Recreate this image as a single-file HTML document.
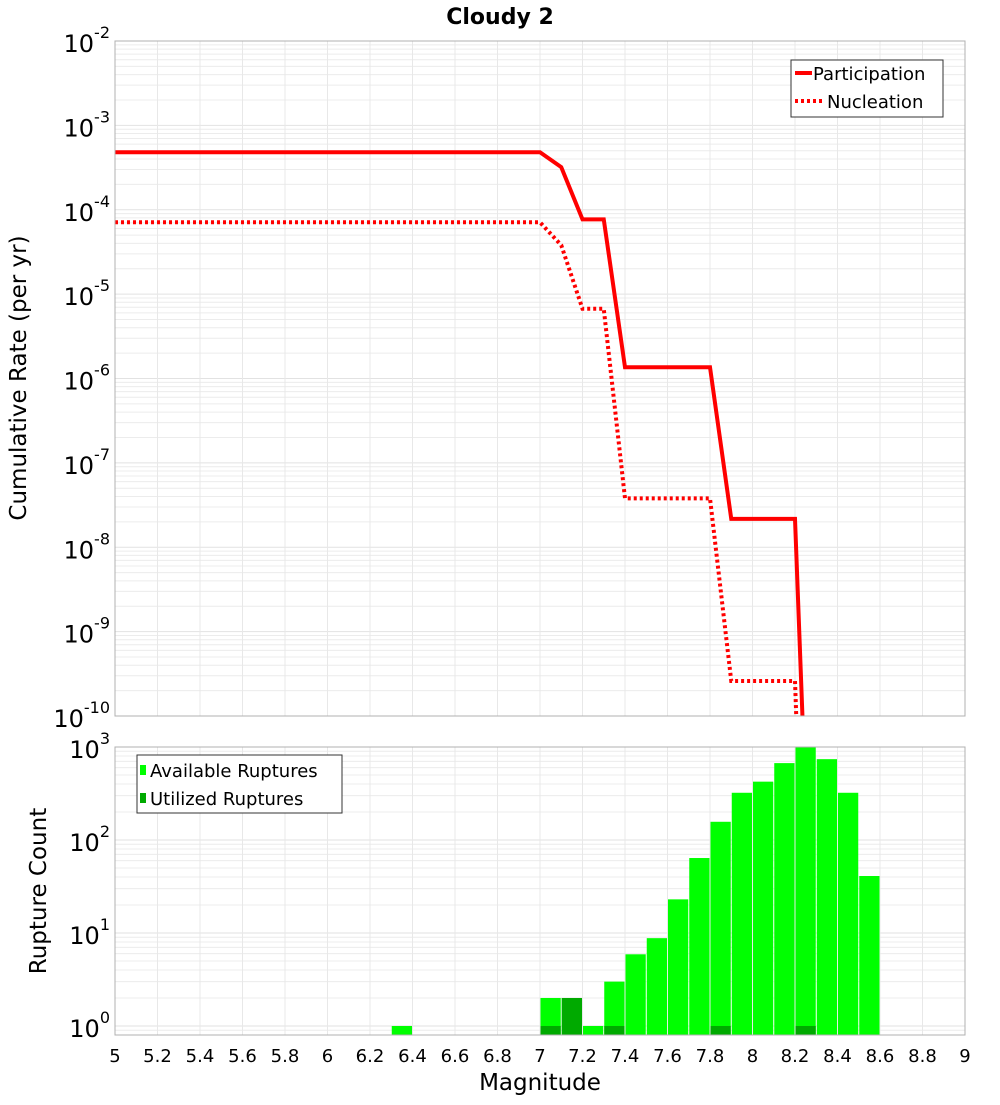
<!DOCTYPE html>
<html><head><meta charset="utf-8"><style>
body{margin:0;background:#fff;}
svg text{font-family:"DejaVu Sans","Liberation Sans",sans-serif;fill:#000;}
</style></head><body>
<svg id="chart" width="1000" height="1100" xmlns="http://www.w3.org/2000/svg">
<text x="500" y="24" text-anchor="middle" font-size="22" font-weight="bold">Cloudy 2</text>
<g id="topPlot"></g>
<g id="botPlot"></g>
<text transform="translate(26,378) rotate(-90)" text-anchor="middle" font-size="23">Cumulative Rate (per yr)</text>
<text transform="translate(46,891) rotate(-90)" text-anchor="middle" font-size="23">Rupture Count</text>
<text x="540" y="1090" text-anchor="middle" font-size="23">Magnitude</text>
</svg>
<script>
const partMag=[5,7.0,7.1,7.2,7.3,7.4,7.8,7.9,8.2,8.25];
const partRate=[4.8e-4,4.8e-4,3.2e-4,7.7e-5,7.7e-5,1.36e-6,1.36e-6,2.17e-8,2.17e-8,1e-11];
const nuclMag=[5,7.0,7.1,7.2,7.3,7.4,7.8,7.9,8.2,8.22];
const nuclRate=[7.1e-5,7.1e-5,3.8e-5,6.7e-6,6.7e-6,3.8e-8,3.8e-8,2.6e-10,2.6e-10,1e-11];
const binMag=[6.35,7.05,7.15,7.25,7.35,7.45,7.55,7.65,7.75,7.85,7.95,8.05,8.15,8.25,8.35,8.45,8.55];
const availCount=[1,2,2,1,3,5.9,8.8,23,64,157,322,424,671,1000,740,322,41];
const usedCount=[0,1,2,0,1,0,0,0,0,1,0,0,0,1,0,0,0];
const xTicks=[5,5.2,5.4,5.6,5.8,6,6.2,6.4,6.6,6.8,7,7.2,7.4,7.6,7.8,8,8.2,8.4,8.6,8.8,9];
const topDecades=[-2,-3,-4,-5,-6,-7,-8,-9,-10];
const botDecades=[0,1,2,3];

const NS="http://www.w3.org/2000/svg";
const L=115,R=965;
const T1=41,B1=716,T2=747,B2=1035;
const xs=m=>L+(m-5)/4*(R-L);
const y1=v=>T1+(-2-Math.log10(v))/8*(B1-T1);
const lmin=Math.log10(0.8),lmax=3;
const y2=v=>B2-(Math.log10(v)-lmin)/(lmax-lmin)*(B2-T2);
function mk(p,tag,attrs,txt){const e=document.createElementNS(NS,tag);for(const k in attrs)e.setAttribute(k,attrs[k]);if(txt!==undefined)e.textContent=txt;p.appendChild(e);return e;}
const topG=document.getElementById('topPlot'),botG=document.getElementById('botPlot');
function grid(g,T,B,yf,d0,d1){
  const gg=mk(g,'g',{});
  
  
  for(let d=d0;d<d1;d++)for(let k=1;k<10;k++){const y=yf(k*Math.pow(10,d));if(y<T-0.5||y>B+0.5)continue;mk(gg,'line',{x1:L,x2:R,y1:y,y2:y,stroke:k==1?'#e2e2e2':'#ececec','stroke-width':1});}
  xTicks.forEach(m=>mk(gg,'line',{x1:xs(m),x2:xs(m),y1:T,y2:B,stroke:'#e8e8e8','stroke-width':1}));
}
grid(topG,T1,B1,y1,-10,-1);
grid(botG,T2,B2,y2,-1,3);
const clip=mk(topG,'clipPath',{id:'c1'});mk(clip,'rect',{x:L,y:T1,width:R-L,height:B1-T1});
function line(ms,vs,dash,name){
  const p=mk(topG,'polyline',{points:ms.map((m,i)=>xs(m)+','+y1(vs[i])).join(' '),fill:'none',stroke:'#ff0000','stroke-width':4,'stroke-dasharray':dash,'clip-path':'url(#c1)'});
  
  
}
line(nuclMag,nuclRate,'3,3','nucleation-line');
line(partMag,partRate,'none','participation-line');
mk(topG,'rect',{x:L,y:T1,width:R-L,height:B1-T1,fill:'none',stroke:'#b0b0b0'});
topDecades.forEach(d=>{const y=y1(Math.pow(10,d));const t=mk(topG,'text',{x:110,y:y+11,'text-anchor':'end','font-size':24});
  
  
  mk(t,'tspan',{},'10');mk(t,'tspan',{dy:-14,'font-size':16},String(d));});
const lg=mk(topG,'g',{});


mk(lg,'rect',{x:791,y:60,width:152,height:57,fill:'#fff',stroke:'#333'});
mk(lg,'line',{x1:795,x2:812,y1:73,y2:73,stroke:'#f00','stroke-width':4});
mk(lg,'text',{x:813,y:80,'font-size':18},'Participation');
mk(lg,'line',{x1:795,x2:823,y1:101,y2:101,stroke:'#f00','stroke-width':4,'stroke-dasharray':'3,3'});
mk(lg,'text',{x:827,y:108,'font-size':18},'Nucleation');
const bw=(R-L)/40;
binMag.forEach((m,i)=>{
  const x=xs(m)-bw/2+0.5,w=bw-1;
  const ya=y2(availCount[i]);
  const b=mk(botG,'rect',{x:x,y:ya,width:w,height:B2-ya,fill:'#00ff00'});
  
  
  if(usedCount[i]>0){const yu=y2(usedCount[i]);const u=mk(botG,'rect',{x:x,y:yu,width:w,height:B2-yu,fill:'#00aa00'});
    
    }
});
mk(botG,'rect',{x:L,y:T2,width:R-L,height:B2-T2,fill:'none',stroke:'#b0b0b0'});
botDecades.forEach(d=>{const y=y2(Math.pow(10,d));const t=mk(botG,'text',{x:110,y:y+11,'text-anchor':'end','font-size':24});
  
  
  mk(t,'tspan',{},'10');mk(t,'tspan',{dy:-14,'font-size':16},String(d));});
xTicks.forEach(m=>{const t=mk(botG,'text',{x:xs(m),y:1062,'text-anchor':'middle','font-size':18},String(m));
  
  });
const lb=mk(botG,'g',{});


mk(lb,'rect',{x:137,y:755,width:205,height:58,fill:'#fff',stroke:'#333'});
mk(lb,'rect',{x:140,y:765,width:6,height:10,fill:'#00ff00'});
mk(lb,'text',{x:150,y:777,'font-size':18},'Available Ruptures');
mk(lb,'rect',{x:140,y:793,width:6,height:10,fill:'#00aa00'});
mk(lb,'text',{x:150,y:805,'font-size':18},'Utilized Ruptures');
</script>
</body></html>
